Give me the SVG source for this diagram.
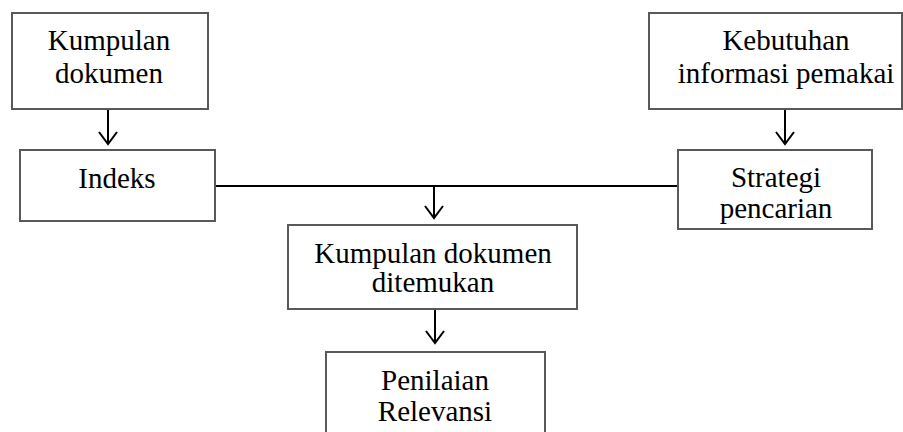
<svg xmlns="http://www.w3.org/2000/svg" width="903" height="432" viewBox="0 0 903 432">
<style>
.box{fill:#fff;stroke:#595959;stroke-width:2}
.t{font-family:"Liberation Serif","Times New Roman",serif;font-size:29px;fill:#000;text-anchor:middle}
.c{fill:none;stroke:#000;stroke-width:2}
.ah{fill:none;stroke:#000;stroke-width:2;stroke-linejoin:miter}
</style>
<rect width="903" height="432" fill="#fff"/>
<g id="connectors">
<line class="c" x1="108" y1="109" x2="108" y2="144"/>
<polyline class="ah" points="99,132 108,144 117,132"/>
<line class="c" x1="785" y1="109" x2="785" y2="144"/>
<polyline class="ah" points="776,132 785,144 794,132"/>
<line class="c" x1="215" y1="186" x2="678" y2="186"/>
<line class="c" x1="434" y1="186" x2="434" y2="218"/>
<polyline class="ah" points="425,206 434,218 443,206"/>
<line class="c" x1="435" y1="309" x2="435" y2="343"/>
<polyline class="ah" points="426,331 435,343 444,331"/>
</g>
<g id="n1">
<rect class="box" x="12" y="13" width="196" height="96"/>
<text class="t" x="109" y="50">Kumpulan</text>
<text class="t" x="109" y="83">dokumen</text>
</g>
<g id="n2">
<rect class="box" x="20" y="150" width="195" height="71"/>
<text class="t" x="117" y="188">Indeks</text>
</g>
<g id="n3">
<rect class="box" x="649" y="13" width="253" height="96"/>
<text class="t" x="786" y="50">Kebutuhan</text>
<text class="t" x="786" y="83">informasi pemakai</text>
</g>
<g id="n4">
<rect class="box" x="678" y="150" width="194" height="79"/>
<text class="t" x="776" y="187">Strategi</text>
<text class="t" x="776" y="218">pencarian</text>
</g>
<g id="n5">
<rect class="box" x="288" y="225" width="289" height="84"/>
<text class="t" x="433" y="263">Kumpulan dokumen</text>
<text class="t" x="433" y="292">ditemukan</text>
</g>
<g id="n6">
<rect class="box" x="326" y="352" width="219" height="100"/>
<text class="t" x="435" y="390">Penilaian</text>
<text class="t" x="435" y="421">Relevansi</text>
</g>
</svg>
